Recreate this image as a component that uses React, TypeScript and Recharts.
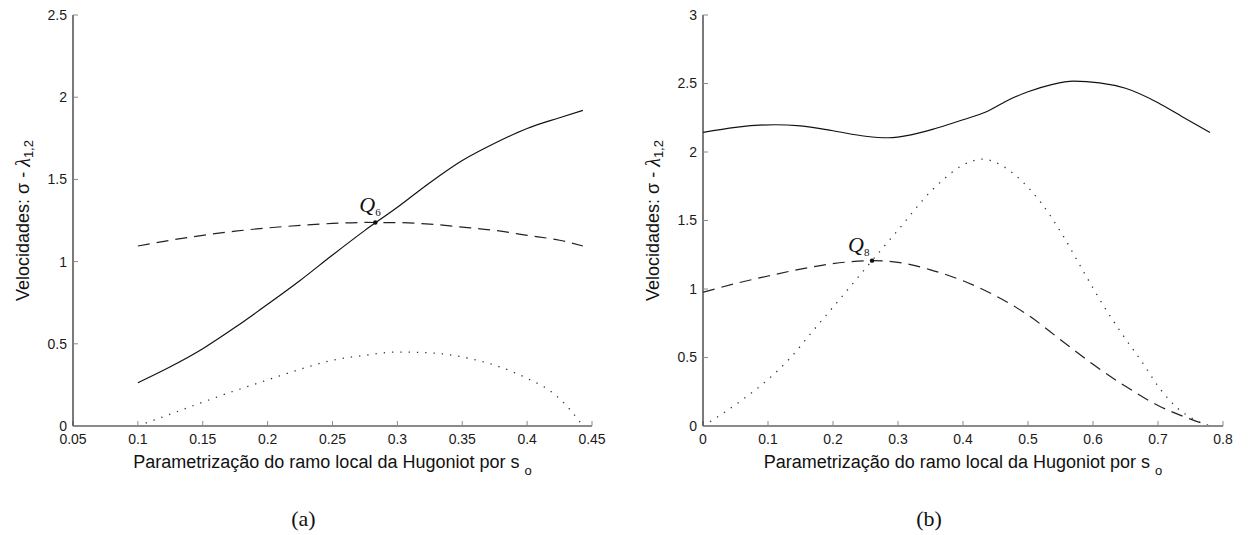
import React from "react";
import { LineChart, Line, XAxis, YAxis, ReferenceDot } from "recharts";

const SANS = "'Liberation Sans', Arial, Helvetica, sans-serif";
const SERIF = "'Liberation Serif', 'Times New Roman', serif";

// ---- panel (a) ----
const xTicksA = [0.05, 0.1, 0.15, 0.2, 0.25, 0.3, 0.35, 0.4, 0.45];
const yTicksA = [0, 0.5, 1, 1.5, 2, 2.5];

const solidXA = [0.1, 0.125, 0.15, 0.175, 0.2, 0.225, 0.25, 0.275, 0.3, 0.325, 0.35, 0.375, 0.4, 0.425, 0.443];
const solidYA = [0.263, 0.36, 0.47, 0.6, 0.74, 0.885, 1.04, 1.19, 1.33, 1.48, 1.615, 1.72, 1.81, 1.875, 1.92];

const dashedXA = [0.1, 0.125, 0.15, 0.175, 0.2, 0.225, 0.25, 0.275, 0.3, 0.325, 0.35, 0.375, 0.4, 0.425, 0.443];
const dashedYA = [1.095, 1.13, 1.16, 1.185, 1.205, 1.22, 1.232, 1.238, 1.237, 1.228, 1.21, 1.19, 1.16, 1.13, 1.095];

const dottedXA = [0.1, 0.125, 0.15, 0.175, 0.2, 0.225, 0.25, 0.275, 0.3, 0.325, 0.35, 0.375, 0.4, 0.42, 0.433, 0.443];
const dottedYA = [0, 0.072, 0.145, 0.215, 0.28, 0.345, 0.4, 0.43, 0.45, 0.445, 0.42, 0.37, 0.29, 0.2, 0.1, 0];

const pointA = { x: 0.283, y: 1.238, name: "Q", sub: "6" };

// ---- panel (b) ----
const xTicksB = [0, 0.1, 0.2, 0.3, 0.4, 0.5, 0.6, 0.7, 0.8];
const yTicksB = [0, 0.5, 1, 1.5, 2, 2.5, 3];

const solidXB = [0, 0.05, 0.11, 0.15, 0.2, 0.25, 0.285, 0.32, 0.36, 0.4, 0.436, 0.47, 0.5, 0.535, 0.57, 0.61, 0.65, 0.7, 0.74, 0.78];
const solidYB = [2.143, 2.18, 2.199, 2.19, 2.155, 2.115, 2.104, 2.125, 2.175, 2.235, 2.294, 2.38, 2.44, 2.49, 2.517, 2.505, 2.465, 2.36, 2.25, 2.143];

const dashedXB = [0, 0.05, 0.1, 0.15, 0.2, 0.26, 0.3, 0.35, 0.4, 0.45, 0.5, 0.55, 0.6, 0.65, 0.7, 0.75, 0.78];
const dashedYB = [0.976, 1.04, 1.095, 1.145, 1.185, 1.207, 1.195, 1.14, 1.06, 0.95, 0.81, 0.63, 0.45, 0.29, 0.15, 0.05, 0];

const dottedXB = [0, 0.03, 0.06, 0.1, 0.133, 0.17, 0.2, 0.26, 0.3, 0.35, 0.37, 0.4, 0.43, 0.46, 0.49, 0.52, 0.555, 0.585, 0.616, 0.645, 0.675, 0.705, 0.73, 0.755, 0.78];
const dottedYB = [0, 0.09, 0.19, 0.34, 0.49, 0.7, 0.867, 1.207, 1.43, 1.71, 1.8, 1.905, 1.948, 1.9, 1.79, 1.63, 1.38, 1.13, 0.88, 0.67, 0.47, 0.26, 0.13, 0.05, 0];

const pointB = { x: 0.26, y: 1.207, name: "Q", sub: "8" };

const toPts = (xs: number[], ys: number[]) => xs.map((x, i) => ({ x, y: ys[i] }));

function YTitle(props: any) {
  const vb = props.viewBox || { x: 0, y: 0, width: 60, height: 411 };
  const cx = vb.x + vb.width - 50;
  const cy = vb.y + vb.height / 2;
  return (
    <text
      x={cx}
      y={cy}
      transform={`rotate(-90, ${cx}, ${cy})`}
      textAnchor="middle"
      dominantBaseline="central"
      fontFamily={SANS}
      fontSize={18}
      fill="#111"
    >
      Velocidades: σ - <tspan fontFamily={SERIF} fontStyle="italic" fontSize={20}>λ</tspan>
      <tspan fontSize={13} dy={5}>1,2</tspan>
    </text>
  );
}

function makeXTitle(caption: string, capShift: number) {
  return (props: any) => {
    const vb = props.viewBox || { x: 0, y: 426, width: 519, height: 30 };
    const cx = vb.x + vb.width / 2;
    return (
      <g>
        <text x={cx} y={vb.y + 42} textAnchor="middle" fontFamily={SANS} fontSize={18} fill="#111">
          Parametrização do ramo local da Hugoniot por s
          <tspan dx={5} dy={7} fontSize={13}>o</tspan>
        </text>
        <text x={cx + capShift} y={vb.y + 100} textAnchor="middle" fontFamily={SERIF} fontSize={22} fill="#111">
          {caption}
        </text>
      </g>
    );
  };
}

function makeDot(name: string, sub: string, qdx: number, qdy: number) {
  return (props: any) => {
    const { cx, cy } = props;
    return (
      <g>
        <circle cx={cx} cy={cy} r={2.2} fill="#111" />
        <text x={cx + qdx} y={cy + qdy} fontFamily={SERIF} fontStyle="italic" fontSize={22} fill="#111">
          {name}
          <tspan fontStyle="normal" fontSize={11} dy={4}>{sub}</tspan>
        </text>
      </g>
    );
  };
}

interface PanelProps {
  width: number;
  margin: { top: number; right: number; bottom: number; left: number };
  xDomain: [number, number];
  xTicks: number[];
  yDomain: [number, number];
  yTicks: number[];
  solid: { x: number; y: number }[];
  dashed: { x: number; y: number }[];
  dotted: { x: number; y: number }[];
  point: { x: number; y: number; name: string; sub: string };
  qdx: number;
  qdy: number;
  caption: string;
  capShift: number;
}

function Panel(p: PanelProps) {
  const tickStyle = { fontSize: 14, fill: "#1a1a1a", fontFamily: SANS };
  return (
    <LineChart width={p.width} height={535} margin={p.margin}>
      <XAxis
        dataKey="x"
        type="number"
        domain={p.xDomain}
        ticks={p.xTicks}
        allowDataOverflow
        interval={0}
        height={30}
        axisLine={{ stroke: "#8a8a8a", strokeWidth: 2 }}
        tickLine={{ stroke: "#8a8a8a" }}
        tickSize={-5}
        tickMargin={13}
        tick={tickStyle}
        tickFormatter={(v: number) => String(v)}
        label={makeXTitle(p.caption, p.capShift)}
      />
      <YAxis
        type="number"
        domain={p.yDomain}
        ticks={p.yTicks}
        allowDataOverflow
        interval={0}
        width={60}
        axisLine={{ stroke: "#222", strokeWidth: 1.2 }}
        tickLine={{ stroke: "#8a8a8a" }}
        tickSize={-5}
        tickMargin={11}
        tick={tickStyle}
        tickFormatter={(v: number) => String(v)}
        label={(props: any) => <YTitle {...props} />}
      />
      <Line data={p.solid} dataKey="y" type="monotone" stroke="#111" strokeWidth={1.2} dot={false} isAnimationActive={false} />
      <Line data={p.dashed} dataKey="y" type="monotone" stroke="#222" strokeWidth={1.2} strokeDasharray="12 7" dot={false} isAnimationActive={false} />
      <Line data={p.dotted} dataKey="y" type="monotone" stroke="#333" strokeWidth={1.3} strokeDasharray="1.3 7" dot={false} isAnimationActive={false} />
      <ReferenceDot x={p.point.x} y={p.point.y} r={2} shape={makeDot(p.point.name, p.point.sub, p.qdx, p.qdy)} />
    </LineChart>
  );
}

export default function App() {
  return (
    <div style={{ position: "absolute", left: 0, top: 0, width: 1251, height: 535, background: "#fff" }}>
      <div style={{ position: "absolute", left: 0, top: 0 }}>
        <Panel
          width={620}
          margin={{ top: 15, right: 28, bottom: 79, left: 13 }}
          xDomain={[0.05, 0.45]}
          xTicks={xTicksA}
          yDomain={[0, 2.5]}
          yTicks={yTicksA}
          solid={toPts(solidXA, solidYA)}
          dashed={toPts(dashedXA, dashedYA)}
          dotted={toPts(dottedXA, dottedYA)}
          point={pointA}
          qdx={-16}
          qdy={-10}
          caption="(a)"
          capShift={-29}
        />
      </div>
      <div style={{ position: "absolute", left: 620, top: 0 }}>
        <Panel
          width={631}
          margin={{ top: 15, right: 28, bottom: 79, left: 23 }}
          xDomain={[0, 0.8]}
          xTicks={xTicksB}
          yDomain={[0, 3]}
          yTicks={yTicksB}
          solid={toPts(solidXB, solidYB)}
          dashed={toPts(dashedXB, dashedYB)}
          dotted={toPts(dottedXB, dottedYB)}
          point={pointB}
          qdx={-24}
          qdy={-9}
          caption="(b)"
          capShift={-34}
        />
      </div>
    </div>
  );
}
